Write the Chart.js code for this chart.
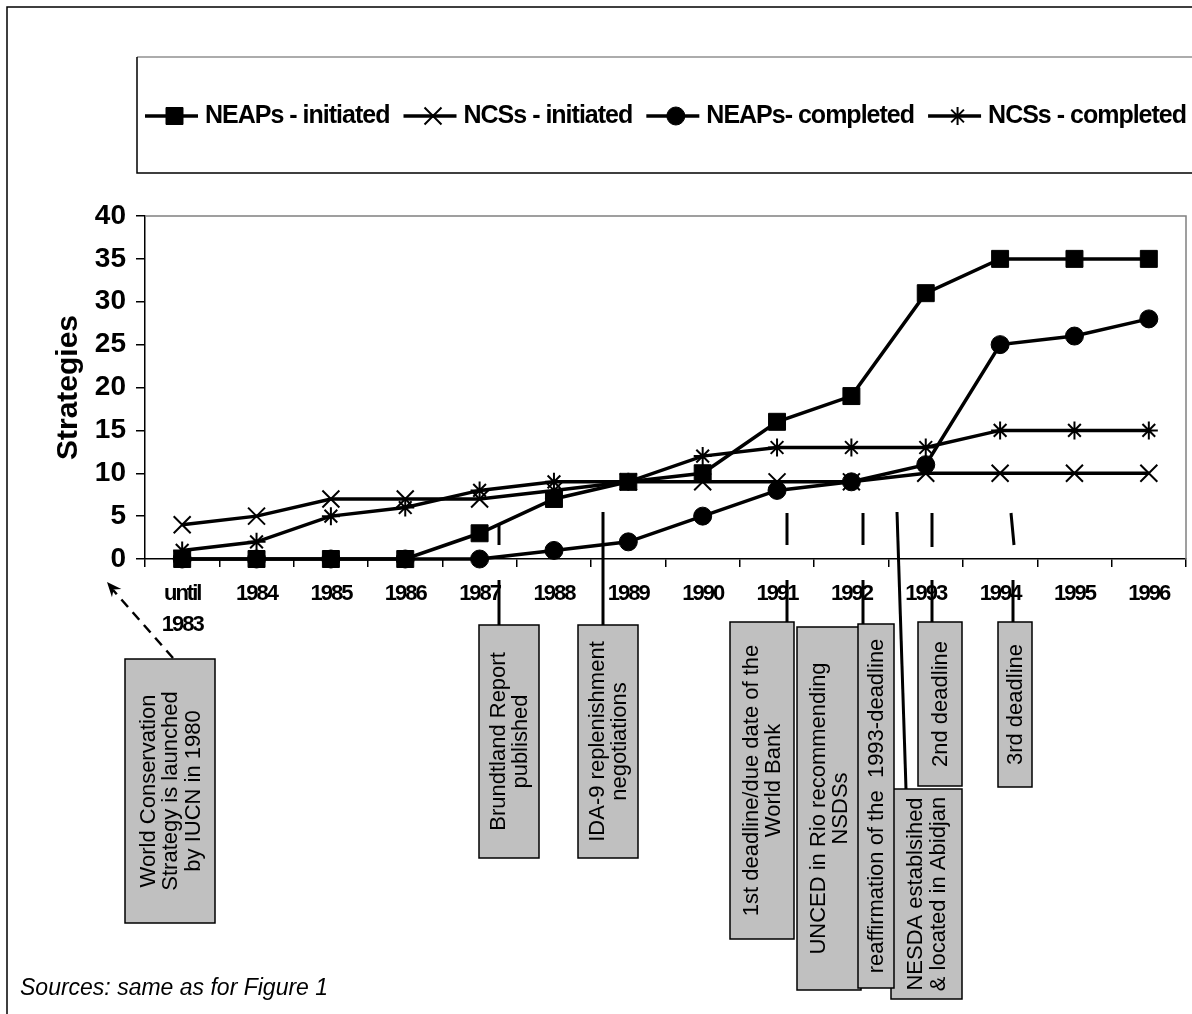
<!DOCTYPE html>
<html>
<head>
<meta charset="utf-8">
<script src="https://cdn.jsdelivr.net/npm/chart.js@4.4.0/dist/chart.umd.min.js"></script>
<style>
  html, body { margin: 0; padding: 0; background: #fff; }
  canvas { display: block; }
</style>
</head>
<body>
<canvas id="chart" width="1192" height="1014"></canvas>
<script>
// data
const years = [['until', '1983'], '1984', '1985', '1986', '1987', '1988', '1989',
  '1990', '1991', '1992', '1993', '1994', '1995', '1996'];
const neapsInitiated = [0, 0, 0, 0, 3, 7, 9, 10, 16, 19, 31, 35, 35, 35];
const ncsInitiated   = [4, 5, 7, 7, 7, 8, 9, 9, 9, 9, 10, 10, 10, 10];
const neapsCompleted = [0, 0, 0, 0, 0, 1, 2, 5, 8, 9, 11, 25, 26, 28];
const ncsCompleted   = [1, 2, 5, 6, 8, 9, 9, 12, 13, 13, 13, 15, 15, 15];
const yMax = 40;
const yStep = 5;

const FONT = "'Liberation Sans', Arial, sans-serif";

// call-out boxes under the axis (x, y, w, h) and their text lines
const notes = [
  { box: [125, 659, 90, 264], text: ['World Conservation', 'Strategy is launched', 'by IUCN in 1980'] },
  { box: [479, 625, 60, 233], text: ['Brundtland Report', 'published'] },
  { box: [578, 625, 60, 233], text: ['IDA-9 replenishment', 'negotiations'] },
  { box: [730, 622, 64, 317], text: ['1st deadline/due date of the', 'World Bank'] },
  { box: [797, 627, 64, 363], text: ['UNCED in Rio recommending', 'NSDSs'] },
  { box: [891, 789, 71, 210], text: ['NESDA establsihed', '& located in Abidjan'] },
  { box: [858, 624, 36, 364], text: ['reaffirmation of the  1993-deadline'] },
  { box: [918, 622, 44, 164], text: ['2nd deadline'] },
  { box: [998, 622, 34, 165], text: ['3rd deadline'] }
];
// leader lines joining boxes to the timeline
const leaders = [
  [499, 525, 499, 545], [499, 580, 499, 625],
  [603, 512, 603, 625],
  [787, 513, 787, 545], [787, 580, 787, 622],
  [863, 513, 863, 545], [863, 580, 863, 624],
  [897, 512, 906, 789],
  [932, 513, 932, 547], [932, 580, 932, 622],
  [1011, 513, 1014, 545], [1013, 580, 1013, 622]
];

Chart.defaults.font.family = FONT;
Chart.defaults.color = '#000';

function lineSet(label, data, style, radius, bw) {
  return {
    label: label,
    data: data,
    borderColor: '#000',
    backgroundColor: '#000',
    borderWidth: 3.5,
    tension: 0,
    pointStyle: style,
    pointRadius: radius,
    pointBorderWidth: bw,
    pointBackgroundColor: '#000',
    pointBorderColor: '#000',
    clip: false
  };
}

// x labels in the original are set very tight
const tightLabels = {
  id: 'tightLabels',
  afterUpdate(chart) {
    const xs = chart.scales.x;
    if (xs._tight) return;
    const orig = xs.drawLabels;
    xs.drawLabels = function (area) {
      const c = this.ctx;
      c.save();
      c.letterSpacing = '-2px';
      orig.call(this, area);
      c.restore();
    };
    xs._tight = true;
  }
};

const frame = {
  id: 'frame',
  beforeDatasetsDraw(chart) {
    const { ctx, chartArea: a } = chart;
    ctx.save();
    ctx.strokeStyle = '#808080';
    ctx.lineWidth = 1.5;
    ctx.beginPath();
    ctx.moveTo(a.left, a.top);
    ctx.lineTo(a.right, a.top);
    ctx.lineTo(a.right, a.bottom);
    ctx.stroke();
    ctx.restore();
  },
  afterDraw(chart) {
    const ctx = chart.ctx;
    ctx.save();
    // outer frame
    ctx.strokeStyle = '#000';
    ctx.lineWidth = 1.5;
    ctx.beginPath();
    ctx.moveTo(7, 1014);
    ctx.lineTo(7, 7);
    ctx.lineTo(1192, 7);
    ctx.stroke();

    // legend box
    ctx.strokeStyle = '#909090';
    ctx.beginPath();
    ctx.moveTo(137, 57);
    ctx.lineTo(1192, 57);
    ctx.stroke();
    ctx.strokeStyle = '#000';
    ctx.beginPath();
    ctx.moveTo(137, 57);
    ctx.lineTo(137, 173);
    ctx.lineTo(1192, 173);
    ctx.stroke();

    // legend items
    const sets = chart.data.datasets;
    ctx.font = 'bold 25px ' + FONT;
    ctx.letterSpacing = '-1px';
    const lineLen = 53, gap = 7, x0 = 145, x1 = 1186, ly = 116;
    const widths = sets.map(d => ctx.measureText(d.label).width);
    const used = widths.reduce((s, w) => s + w + lineLen + gap, 0);
    const itemGap = (x1 - x0 - used) / (sets.length - 1);
    let x = x0;
    sets.forEach((d, i) => {
      ctx.strokeStyle = '#000';
      ctx.fillStyle = '#000';
      ctx.lineWidth = 3.5;
      ctx.beginPath();
      ctx.moveTo(x, ly);
      ctx.lineTo(x + lineLen, ly);
      ctx.stroke();
      ctx.lineWidth = d.pointBorderWidth;
      Chart.helpers.drawPoint(ctx, {
        pointStyle: d.pointStyle, radius: d.pointRadius,
        rotation: 0, borderWidth: d.pointBorderWidth
      }, x + lineLen / 2 + 3, ly);
      ctx.fillStyle = '#000';
      ctx.textBaseline = 'middle';
      ctx.textAlign = 'left';
      ctx.fillText(d.label, x + lineLen + gap, ly);
      x += lineLen + gap + widths[i] + itemGap;
    });
    ctx.letterSpacing = '0px';

    // leader lines
    ctx.strokeStyle = '#000';
    ctx.lineWidth = 3;
    leaders.forEach(l => {
      ctx.beginPath();
      ctx.moveTo(l[0], l[1]);
      ctx.lineTo(l[2], l[3]);
      ctx.stroke();
    });

    // dashed arrow to the 1980 strategy
    ctx.lineWidth = 2.5;
    ctx.setLineDash([10, 7]);
    ctx.beginPath();
    ctx.moveTo(173, 658);
    ctx.lineTo(113, 590);
    ctx.stroke();
    ctx.setLineDash([]);
    const ang = Math.atan2(582 - 658, 107 - 173);
    ctx.beginPath();
    ctx.moveTo(107, 582);
    ctx.lineTo(107 - 16 * Math.cos(ang - 0.4), 582 - 16 * Math.sin(ang - 0.4));
    ctx.lineTo(107 - 10 * Math.cos(ang), 582 - 10 * Math.sin(ang));
    ctx.lineTo(107 - 16 * Math.cos(ang + 0.4), 582 - 16 * Math.sin(ang + 0.4));
    ctx.closePath();
    ctx.fillStyle = '#000';
    ctx.fill();

    // call-out boxes with rotated text
    ctx.font = '22px ' + FONT;
    ctx.textAlign = 'center';
    ctx.textBaseline = 'middle';
    notes.forEach(n => {
      const [bx, by, bw, bh] = n.box;
      ctx.fillStyle = '#c0c0c0';
      ctx.fillRect(bx, by, bw, bh);
      ctx.strokeStyle = '#000';
      ctx.lineWidth = 1.5;
      ctx.strokeRect(bx, by, bw, bh);
      ctx.save();
      ctx.translate(bx + bw / 2, by + bh / 2);
      ctx.rotate(-Math.PI / 2);
      ctx.fillStyle = '#000';
      const lh = 22.5;
      n.text.forEach((t, k) => {
        ctx.fillText(t, 0, (k - (n.text.length - 1) / 2) * lh + 1);
      });
      ctx.restore();
    });

    // source note
    ctx.font = 'italic 23px ' + FONT;
    ctx.textAlign = 'left';
    ctx.textBaseline = 'alphabetic';
    ctx.fillStyle = '#000';
    ctx.fillText('Sources: same as for Figure 1', 20, 995);
    ctx.restore();
  }
};

new Chart(document.getElementById('chart'), {
  type: 'line',
  data: {
    labels: years,
    datasets: [
      lineSet('NEAPs - initiated', neapsInitiated, 'rect', 12, 1),
      lineSet('NCSs - initiated', ncsInitiated, 'crossRot', 12, 2),
      lineSet('NEAPs- completed', neapsCompleted, 'circle', 9, 1),
      lineSet('NCSs - completed', ncsCompleted, 'star', 9, 2)
    ]
  },
  options: {
    responsive: false,
    devicePixelRatio: 1,
    animation: false,
    events: [],
    layout: { autoPadding: false, padding: { left: 0, top: 216, right: 6, bottom: 365 } },
    plugins: {
      legend: { display: false },
      tooltip: { enabled: false }
    },
    scales: {
      x: {
        type: 'category',
        offset: true,
        grid: { offset: true, drawOnChartArea: false, drawTicks: true, tickLength: 8, color: '#000', lineWidth: 1.5 },
        border: { color: '#000', width: 1.5 },
        ticks: {
          font: { size: 22, weight: 'bold', lineHeight: 1.4 },
          color: '#000', padding: 12, maxRotation: 0, autoSkip: false
        },
        afterFit(s) { s.height = 90; s.paddingLeft = 0; s.paddingRight = 0; }
      },
      y: {
        min: 0,
        max: yMax,
        ticks: { stepSize: yStep, font: { size: 28, weight: 'bold' }, padding: 10, color: '#000' },
        grid: { drawOnChartArea: false, tickLength: 9, color: '#000', lineWidth: 1.5 },
        border: { color: '#000', width: 1.5 },
        title: {
          display: true, text: 'Strategies', color: '#000',
          font: { size: 30, weight: 'bold' }, padding: { top: 51, bottom: 0 }
        },
        afterFit(s) { s.width = 145; s.paddingTop = 0; s.paddingBottom = 0; }
      }
    }
  },
  plugins: [tightLabels, frame]
});
</script>
</body>
</html>
